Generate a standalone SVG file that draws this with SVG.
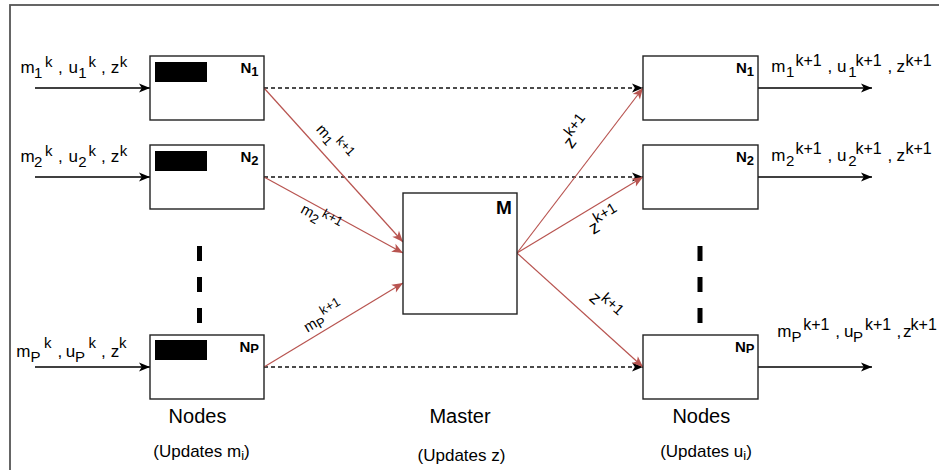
<svg xmlns="http://www.w3.org/2000/svg" width="939" height="470" viewBox="0 0 939 470">
<defs>
<style>
text{font-family:"Liberation Sans",Arial,Helvetica,sans-serif;fill:#000}
.t{font-size:17px}
.s{font-size:15px}
.s2{font-size:16px}
.nl{font-size:15px;font-weight:bold}
.ns{font-size:13px;font-weight:bold}
.big{font-size:20px}
.upd{font-size:17px}
.lm{font-size:15px}
.ls{font-size:13px}
.lz{font-size:18px}
.lzs{font-size:15px}
.box{fill:#fff;stroke:#222;stroke-width:1.4}
.blk{fill:#000}
.sol{stroke:#000;stroke-width:1.4;fill:none}
.dash{stroke:#111;stroke-width:1.3;stroke-dasharray:4 3;fill:none}
.red{stroke:#b85450;stroke-width:1.2;fill:none}
.vd{stroke:#000;stroke-width:5;stroke-dasharray:15 16;fill:none}
</style>
<marker id="ab" markerUnits="userSpaceOnUse" markerWidth="13" markerHeight="11" refX="12" refY="5.5" orient="auto"><path d="M1,1 L12,5.5 L1,10 L3.8,5.5 Z" fill="#000"/></marker>
<marker id="ar" markerUnits="userSpaceOnUse" markerWidth="13" markerHeight="11" refX="12" refY="5.5" orient="auto"><path d="M1,1 L12,5.5 L1,10 L3.8,5.5 Z" fill="#b85450"/></marker>
</defs>
<rect x="10" y="5" width="940" height="480" fill="#fff" stroke="#555" stroke-width="1.8"/>

<g id="connectors">
<line class="sol" x1="35" y1="88" x2="150" y2="88" marker-end="url(#ab)"/>
<line class="sol" x1="35" y1="177" x2="150" y2="177" marker-end="url(#ab)"/>
<line class="sol" x1="35" y1="367" x2="150" y2="367" marker-end="url(#ab)"/>
<line class="sol" x1="758" y1="88" x2="872" y2="88" marker-end="url(#ab)"/>
<line class="sol" x1="758" y1="177" x2="872" y2="177" marker-end="url(#ab)"/>
<line class="sol" x1="758" y1="367" x2="872" y2="367" marker-end="url(#ab)"/>
<line class="dash" x1="264" y1="88" x2="643" y2="88" marker-end="url(#ab)"/>
<line class="dash" x1="264" y1="177" x2="643" y2="177" marker-end="url(#ab)"/>
<line class="dash" x1="264" y1="367" x2="643" y2="367" marker-end="url(#ab)"/>
<line class="red" x1="264" y1="88" x2="403" y2="242" marker-end="url(#ar)"/>
<line class="red" x1="264" y1="177" x2="403" y2="253" marker-end="url(#ar)"/>
<line class="red" x1="264" y1="367" x2="403" y2="283" marker-end="url(#ar)"/>
<line class="red" x1="517" y1="253" x2="643" y2="88" marker-end="url(#ar)"/>
<line class="red" x1="517" y1="253" x2="643" y2="177" marker-end="url(#ar)"/>
<line class="red" x1="517" y1="253" x2="643" y2="367" marker-end="url(#ar)"/>
<line class="vd" x1="199.5" y1="246" x2="199.5" y2="323"/>
<line class="vd" x1="700" y1="246" x2="700" y2="323"/>
<g transform="translate(333,143) rotate(48)"><text class="lm" text-anchor="middle" y="4">m<tspan class="ls" dy="3">1</tspan><tspan class="ls" dx="2" dy="-10">k+1</tspan></text></g>
<g transform="translate(320,219) rotate(29)"><text class="lm" text-anchor="middle" y="4">m<tspan class="ls" dy="3">2</tspan><tspan class="ls" dx="1" dy="-10">k+1</tspan></text></g>
<g transform="translate(324,318) rotate(-31)"><text class="lm" text-anchor="middle" y="4">m<tspan class="ls" dy="3">P</tspan><tspan class="ls" dx="1" dy="-10">k+1</tspan></text></g>
<g transform="translate(578,133) rotate(-52.6)"><text class="lz" text-anchor="middle" y="5">z<tspan class="lzs" dy="-8">k+1</tspan></text></g>
<g transform="translate(605,222) rotate(-31)"><text class="lz" text-anchor="middle" y="5">z<tspan class="lzs" dy="-8">k+1</tspan></text></g>
<g transform="translate(604,307) rotate(42)"><text class="lz" text-anchor="middle" y="5">z<tspan class="lzs" dy="-8">k+1</tspan></text></g>
</g>

<g id="in1"><text class="t" y="73"><tspan x="20.5">m</tspan><tspan class="s" x="34" y="77.5">1</tspan><tspan class="s" x="45" y="66.5">k</tspan><tspan x="58" y="73">,</tspan><tspan x="68.4">u</tspan><tspan class="s" x="78.2" y="77.5">1</tspan><tspan class="s" x="88.4" y="66.5">k</tspan><tspan x="101" y="73">,</tspan><tspan x="110.7">z</tspan><tspan class="s" x="119.8" y="66.5">k</tspan></text></g>
<g id="in2"><text class="t" y="162"><tspan x="20.5">m</tspan><tspan class="s" x="34" y="166.5">2</tspan><tspan class="s" x="45" y="155.5">k</tspan><tspan x="58" y="162">,</tspan><tspan x="68.4">u</tspan><tspan class="s" x="78.2" y="166.5">2</tspan><tspan class="s" x="88.4" y="155.5">k</tspan><tspan x="101" y="162">,</tspan><tspan x="110.7">z</tspan><tspan class="s" x="119.8" y="155.5">k</tspan></text></g>
<g id="inP"><text class="t" y="357"><tspan x="16.3">m</tspan><tspan class="s" x="30.5" y="361.5">P</tspan><tspan class="s" x="44" y="348">k</tspan><tspan x="57.5" y="357">,</tspan><tspan x="65.8">u</tspan><tspan class="s" x="75" y="361.5">P</tspan><tspan class="s" x="88.4" y="348">k</tspan><tspan x="101" y="357">,</tspan><tspan x="110.7">z</tspan><tspan class="s" x="119" y="348">k</tspan></text></g>

<g id="out1"><text class="t" y="72.3"><tspan x="771.3">m</tspan><tspan class="s" x="786" y="76.8">1</tspan><tspan class="s2" x="795.5" y="65.5">k+1</tspan><tspan x="827.5" y="72.3">,</tspan><tspan x="837.1">u</tspan><tspan class="s" x="848.3" y="76.8">1</tspan><tspan class="s2" x="855.5" y="65.5">k+1</tspan><tspan x="887.5" y="72.3">,</tspan><tspan x="896.4">z</tspan><tspan class="s2" x="905.5" y="65.5">k+1</tspan></text></g>
<g id="out2"><text class="t" y="161"><tspan x="771.3">m</tspan><tspan class="s" x="786" y="165.5">2</tspan><tspan class="s2" x="795.5" y="154.2">k+1</tspan><tspan x="827.5" y="161">,</tspan><tspan x="837.1">u</tspan><tspan class="s" x="848.3" y="165.5">2</tspan><tspan class="s2" x="855.5" y="154.2">k+1</tspan><tspan x="887.5" y="161">,</tspan><tspan x="896.4">z</tspan><tspan class="s2" x="905.5" y="154.2">k+1</tspan></text></g>
<g id="outP"><text class="t" y="337"><tspan x="777.3">m</tspan><tspan class="s" x="791.5" y="341.5">P</tspan><tspan class="s2" x="803.2" y="330">k+1</tspan><tspan x="835.2" y="337">,</tspan><tspan x="844.1">u</tspan><tspan class="s" x="853.1" y="341.5">P</tspan><tspan class="s2" x="864.9" y="330">k+1</tspan><tspan x="896.5" y="337">,</tspan><tspan x="903">z</tspan><tspan class="s2" x="910.6" y="330">k+1</tspan></text></g>

<g id="L1"><rect class="box" x="150" y="56" width="114" height="64"/><rect class="blk" x="155" y="62" width="52" height="20"/><text class="nl" x="240.5" y="73">N<tspan class="ns" dy="3">1</tspan></text></g>
<g id="L2"><rect class="box" x="150" y="145" width="114" height="64"/><rect class="blk" x="155" y="151" width="52" height="20"/><text class="nl" x="240.5" y="162">N<tspan class="ns" dy="3">2</tspan></text></g>
<g id="LP"><rect class="box" x="150" y="335" width="114" height="64"/><rect class="blk" x="155" y="340" width="52" height="20"/><text class="nl" x="239.5" y="351.5">N<tspan class="ns" dy="1.5">P</tspan></text></g>
<g id="M"><rect class="box" x="403" y="193" width="114" height="121"/><text x="496" y="213.5" style="font-size:19px;font-weight:bold">M</text></g>
<g id="R1"><rect class="box" x="643" y="56" width="115" height="64"/><text class="nl" x="736" y="73">N<tspan class="ns" dy="3">1</tspan></text></g>
<g id="R2"><rect class="box" x="643" y="145" width="115" height="64"/><text class="nl" x="736" y="162">N<tspan class="ns" dy="3">2</tspan></text></g>
<g id="RP"><rect class="box" x="643" y="335" width="115" height="64"/><text class="nl" x="735" y="351.5">N<tspan class="ns" dy="1.5">P</tspan></text></g>

<g id="captions">
<text class="big" x="197.5" y="423.3" text-anchor="middle">Nodes</text>
<text class="upd" x="201.5" y="457" text-anchor="middle">(Updates m<tspan class="ls" dy="3">i</tspan><tspan dy="-3">)</tspan></text>
<text class="big" x="460" y="423.3" text-anchor="middle">Master</text>
<text class="upd" x="461.5" y="461" text-anchor="middle">(Updates z)</text>
<text class="big" x="701.3" y="423.3" text-anchor="middle">Nodes</text>
<text class="upd" x="706" y="457" text-anchor="middle">(Updates u<tspan class="ls" dy="3">i</tspan><tspan dy="-3">)</tspan></text>
</g>
</svg>
